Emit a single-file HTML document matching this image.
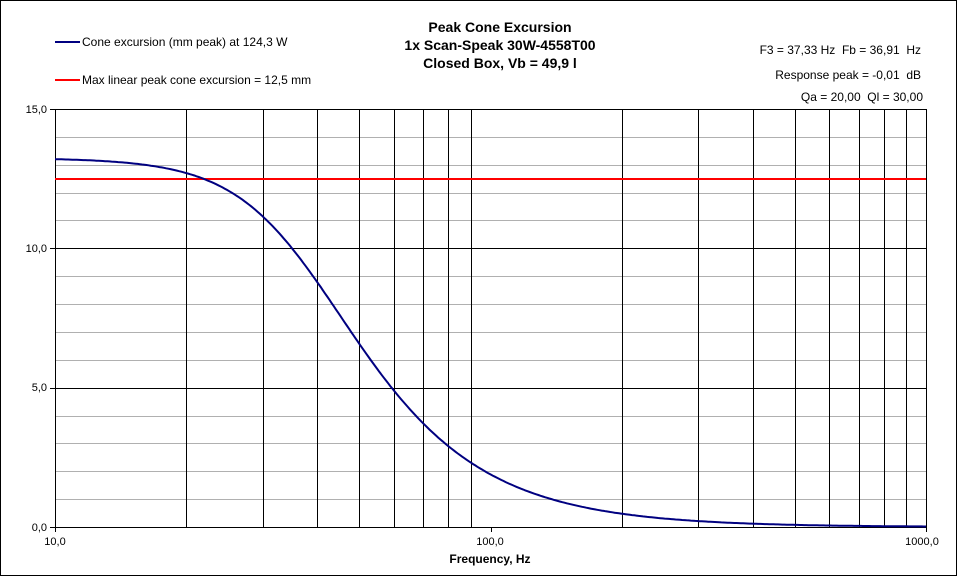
<!DOCTYPE html><html><head><style>body{margin:0;background:#fff}svg{display:block}text{font-family:"Liberation Sans",Arial,sans-serif}</style></head><body>
<svg id="s" width="958" height="577" xmlns="http://www.w3.org/2000/svg">
<rect x="0.5" y="0.5" width="956" height="575" fill="#fff" stroke="#000"/>
<g id="g"></g>
<rect x="55.5" y="109.5" width="871" height="418" fill="none" stroke="#000"/>
<line x1="55" y1="179" x2="926" y2="179" stroke="#f00" stroke-width="2"/>
<path id="c" fill="none" stroke="#000080" stroke-width="2"/>
<g font-size="11" text-anchor="end" fill="#000">
<text x="47" y="113">15,0</text><text x="47" y="252">10,0</text><text x="47" y="391">5,0</text><text x="47" y="531">0,0</text>
</g>
<g font-size="11" text-anchor="middle"><text x="55" y="545">10,0</text><text x="490" y="545">100,0</text><text x="922" y="545">1000,0</text></g>
<text x="490" y="563" font-size="12" font-weight="bold" text-anchor="middle">Frequency, Hz</text>
<g font-size="14" font-weight="bold" text-anchor="middle"><text x="500" y="32">Peak Cone Excursion</text><text x="500" y="50">1x Scan-Speak 30W-4558T00</text><text x="500" y="68">Closed Box, Vb = 49,9 l</text></g>
<g font-size="12" text-anchor="end"><text x="921" y="54">F3 = 37,33 Hz &#160;Fb = 36,91 &#160;Hz</text><text x="921" y="79">Response peak = -0,01 &#160;dB</text><text x="923" y="101">Qa = 20,00 &#160;Ql = 30,00</text></g>
<line x1="55" y1="42" x2="80" y2="42" stroke="#000080" stroke-width="2"/>
<text x="82" y="46" font-size="12">Cone excursion (mm peak) at 124,3 W</text>
<line x1="55" y1="80" x2="80" y2="80" stroke="#f00" stroke-width="2"/>
<text x="82" y="84" font-size="12">Max linear peak cone excursion = 12,5 mm</text>
</svg>
<script>
var g=document.getElementById('g'),h='';
function X(f){return 55+435.5*Math.log10(f/10)}function Y(v){return 527-v*27.867}
for(var i=1;i<15;i++){if(i%5)h+='<line x1="55" x2="926" y1="'+(Math.round(Y(i))+.5)+'" y2="'+(Math.round(Y(i))+.5)+'" stroke="#b0b0b0"/>';}
[5,10].forEach(function(v){h+='<line x1="50" x2="926" y1="'+(Math.round(Y(v))+.5)+'" y2="'+(Math.round(Y(v))+.5)+'" stroke="#000"/>'});
h+='<line x1="50" x2="55" y1="109.5" y2="109.5" stroke="#000"/><line x1="50" x2="55" y1="527.5" y2="527.5" stroke="#000"/>';
[10,100].forEach(function(d){for(var k=2;k<10;k++){var x=Math.round(X(d*k))+.5;h+='<line x1="'+x+'" x2="'+x+'" y1="109" y2="527" stroke="#000"/>';}});
[10,100,1000].forEach(function(f){var x=Math.round(X(f))+.5;h+='<line x1="'+x+'" x2="'+x+'" y1="527" y2="532" stroke="#000"/>'});
g.innerHTML=h;
var p='';for(var i=0;i<=400;i++){var f=10*Math.pow(100,i/400),r=f/38,q=0.70,a=1-r*r,v=13.25/Math.sqrt(a*a+(r/q)*(r/q));p+=(i?'L':'M')+X(f).toFixed(1)+' '+Y(v).toFixed(1);}
document.getElementById('c').setAttribute('d',p);
</script></body></html>
